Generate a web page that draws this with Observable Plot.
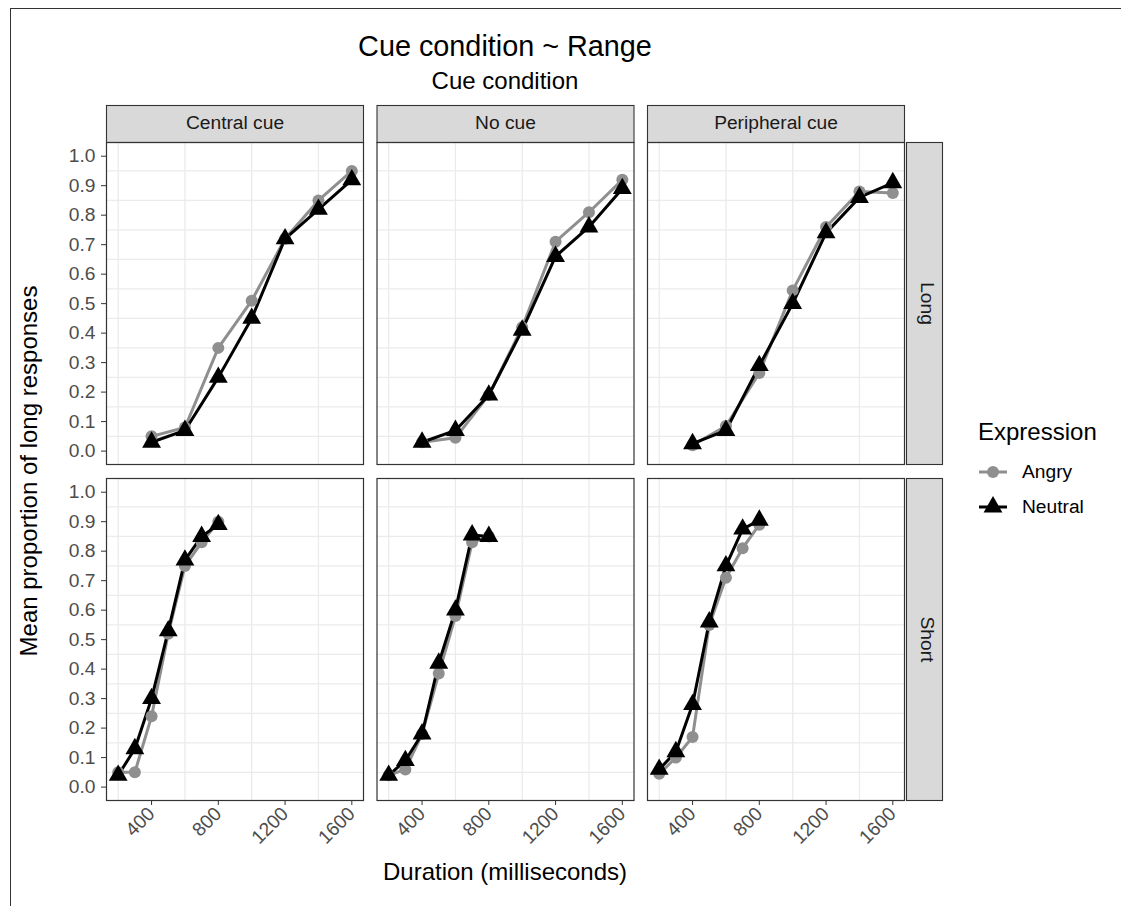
<!DOCTYPE html>
<html>
<head>
<meta charset="utf-8">
<script src="https://cdn.jsdelivr.net/npm/d3@7"></script>
<script src="https://cdn.jsdelivr.net/npm/@observablehq/plot@0.6"></script>
<style>
  html, body { margin: 0; padding: 0; background: #ffffff; }
  body { font-family: "Liberation Sans", Arial, Helvetica, sans-serif; }
  #wrap { position: relative; width: 1121px; height: 906px; overflow: hidden; }
  #frameline { position: absolute; left: 10px; top: 8px; right: -2px; bottom: -2px; border-top: 1px solid #333; border-left: 1px solid #333; }
  #chart { position: absolute; left: 0; top: 0; }
  .t { position: absolute; white-space: nowrap; color: #000; }
  #title { left: 505px; top: 30px; transform: translateX(-50%); font-size: 28.8px; }
  #subtitle { left: 505px; top: 67px; transform: translateX(-50%); font-size: 24px; }
  #xlabel { left: 505px; top: 858px; transform: translateX(-50%); font-size: 24px; }
  #ylabel { left: 29px; top: 471px; transform: translate(-50%, -50%) rotate(-90deg); font-size: 24px; }
  #legend { position: absolute; left: 978px; top: 418px; }
  #legend .lt { font-size: 24px; color: #000; margin-bottom: 9px; }
  #legend .row { display: flex; align-items: center; height: 34.5px; font-size: 19.2px; color: #000; }
  #legend svg { margin-right: 14px; }
</style>
</head>
<body>
<div id="wrap">
  <div id="frameline"></div>
  <div id="chart"></div>
  <div class="t" id="title">Cue condition ~ Range</div>
  <div class="t" id="subtitle">Cue condition</div>
  <div class="t" id="xlabel">Duration (milliseconds)</div>
  <div class="t" id="ylabel">Mean proportion of long responses</div>
  <div id="legend"></div>
</div>
<script>
// ---- data ----
const cues = ["Central cue", "No cue", "Peripheral cue"];
const ranges = ["Long", "Short"];
const expressions = ["Angry", "Neutral"];
const expressionColors = ["#8f8f8f", "#000000"];
const expressionSymbols = ["circle", "triangle"];

const durationsLong = [400, 600, 800, 1000, 1200, 1400, 1600];
const durationsShort = [200, 300, 400, 500, 600, 700, 800];

const centralLongAngry     = [0.05, 0.08, 0.35, 0.51, 0.72, 0.85, 0.95];
const centralLongNeutral   = [0.03, 0.07, 0.25, 0.45, 0.72, 0.82, 0.92];
const noCueLongAngry       = [0.03, 0.045, 0.19, 0.42, 0.71, 0.81, 0.92];
const noCueLongNeutral     = [0.03, 0.07, 0.19, 0.41, 0.66, 0.76, 0.89];
const periphLongAngry      = [0.02, 0.085, 0.265, 0.545, 0.76, 0.88, 0.875];
const periphLongNeutral    = [0.025, 0.07, 0.29, 0.50, 0.74, 0.86, 0.91];

const centralShortAngry    = [0.05, 0.05, 0.24, 0.52, 0.75, 0.83, 0.90];
const centralShortNeutral  = [0.04, 0.13, 0.30, 0.53, 0.77, 0.85, 0.89];
const noCueShortAngry      = [0.04, 0.06, 0.18, 0.385, 0.58, 0.83, 0.85];
const noCueShortNeutral    = [0.04, 0.09, 0.18, 0.42, 0.60, 0.855, 0.85];
const periphShortAngry     = [0.045, 0.10, 0.17, 0.55, 0.71, 0.81, 0.89];
const periphShortNeutral   = [0.06, 0.12, 0.28, 0.56, 0.75, 0.875, 0.905];

const xTicks = [400, 800, 1200, 1600];
const yTicks = [0, 0.1, 0.2, 0.3, 0.4, 0.5, 0.6, 0.7, 0.8, 0.9, 1.0];
const xGrid = [200, 600, 1000, 1400];
const yGrid = [0.05, 0.15, 0.25, 0.35, 0.45, 0.55, 0.65, 0.75, 0.85, 0.95];

// ---- table ----
const rows = [];
function add(cue, range, expression, durations, values) {
  durations.forEach((d, i) => rows.push({cue, range, expression, duration: d, value: values[i]}));
}
add("Central cue", "Long", "Angry", durationsLong, centralLongAngry);
add("Central cue", "Long", "Neutral", durationsLong, centralLongNeutral);
add("No cue", "Long", "Angry", durationsLong, noCueLongAngry);
add("No cue", "Long", "Neutral", durationsLong, noCueLongNeutral);
add("Peripheral cue", "Long", "Angry", durationsLong, periphLongAngry);
add("Peripheral cue", "Long", "Neutral", durationsLong, periphLongNeutral);
add("Central cue", "Short", "Angry", durationsShort, centralShortAngry);
add("Central cue", "Short", "Neutral", durationsShort, centralShortNeutral);
add("No cue", "Short", "Angry", durationsShort, noCueShortAngry);
add("No cue", "Short", "Neutral", durationsShort, noCueShortNeutral);
add("Peripheral cue", "Short", "Angry", durationsShort, periphShortAngry);
add("Peripheral cue", "Short", "Neutral", durationsShort, periphShortNeutral);

const angry = rows.filter(d => d.expression === "Angry");
const neutral = rows.filter(d => d.expression === "Neutral");

// ---- layout ----
const W = 1121, H = 906;
const mL = 106, mR = 217, mT = 142, mB = 106;
const gapX = 13.5, gapY = 14;
const panelW = (W - mL - mR - 2 * gapX) / 3;
const panelH = (H - mT - mB - gapY) / 2;
const font = "'Liberation Sans', Arial, Helvetica, sans-serif";

const common = {x: "duration", y: "value", fx: "cue", fy: "range"};

const chart = Plot.plot({
  width: W, height: H,
  marginTop: mT, marginBottom: mB, marginLeft: mL, marginRight: mR,
  facet: {marginTop: 0, marginRight: 0, marginBottom: 0, marginLeft: 0},
  fx: {domain: cues, paddingInner: gapX / (panelW + gapX), paddingOuter: 0, round: false},
  fy: {domain: ranges, paddingInner: gapY / (panelH + gapY), paddingOuter: 0, round: false},
  x: {domain: [130, 1670], nice: false},
  y: {domain: [-0.0455, 1.0465], nice: false},
  color: {domain: expressions, range: expressionColors},
  symbol: {domain: expressions, range: expressionSymbols},
  style: {fontFamily: font, background: "transparent", overflow: "visible"},
  marks: [
    Plot.gridX({ticks: xGrid, stroke: "#ebebeb", strokeOpacity: 1, strokeWidth: 1.3}),
    Plot.gridY({ticks: yGrid, stroke: "#ebebeb", strokeOpacity: 1, strokeWidth: 1.3}),
    Plot.frame({facetAnchor: "top", fill: "#d9d9d9", stroke: "#333333", strokeWidth: 1.1, insetTop: -37, insetBottom: panelH}),
    Plot.frame({facetAnchor: "right", fill: "#d9d9d9", stroke: "#333333", strokeWidth: 1.1, insetRight: -38, insetLeft: panelW + 2}),
    Plot.frame({stroke: "#333333", strokeWidth: 1.2}),
    Plot.line(angry, {...common, stroke: "expression", strokeWidth: 3}),
    Plot.line(neutral, {...common, stroke: "expression", strokeWidth: 3}),
    Plot.dot(angry, {...common, symbol: "expression", fill: "expression", r: 6}),
    Plot.dot(neutral, {...common, symbol: "expression", fill: "expression", r: 7}),
    Plot.axisX({ticks: xTicks, tickFormat: d3.format("d"), tickSize: 5, tickPadding: 5, tickRotate: -45, fontSize: 19.2, color: "#4d4d4d", stroke: "#333333", label: null}),
    Plot.axisY({ticks: yTicks, tickFormat: d3.format(".1f"), tickSize: 5, tickPadding: 6, fontSize: 19.2, color: "#4d4d4d", stroke: "#333333", label: null}),
    Plot.axisFx({anchor: "top", tickSize: 0, tickPadding: 14, fontSize: 19.2, color: "#1a1a1a", label: null}),
    Plot.axisFy({anchor: "right", tickSize: 0, tickPadding: 30, tickRotate: 90, fontSize: 19.2, color: "#1a1a1a", label: null})
  ]
});
document.getElementById("chart").appendChild(chart);

// ---- legend (key glyphs) ----
const legend = document.getElementById("legend");
legend.innerHTML = `<div class="lt">Expression</div>` + expressions.map((e, i) => {
  const c = expressionColors[i];
  const glyph = expressionSymbols[i] === "circle"
    ? `<circle cx="15" cy="12" r="6" fill="${c}"/>`
    : `<path d="${d3.symbol(d3.symbolTriangle, Math.PI * 7 * 7)()}" transform="translate(15,12)" fill="${c}"/>`;
  return `<div class="row"><svg width="30" height="24"><line x1="1" x2="29" y1="12" y2="12" stroke="${c}" stroke-width="3"/>${glyph}</svg><span>${e}</span></div>`;
}).join("");
</script>
</body>
</html>
